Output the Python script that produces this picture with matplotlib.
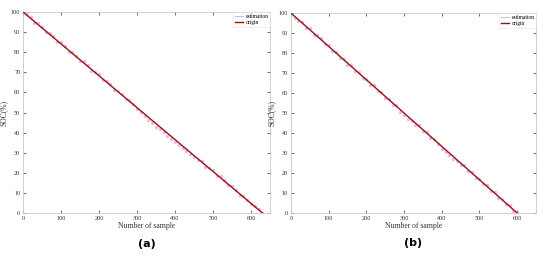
import matplotlib
matplotlib.use("Agg")
import matplotlib.pyplot as plt
from matplotlib.lines import Line2D

plt.rcParams['font.family'] = ['Liberation Serif', 'DejaVu Serif']

# ---------------- data ----------------
samples_a = list(range(0, 640, 10))
est_a = [100.0, 99.2, 97.3, 94.6, 94.6, 92.5, 90.0, 89.6, 87.9, 85.3,
         84.9, 83.0, 80.3, 80.0, 78.1, 75.7, 75.5, 73.4, 70.8, 70.3,
         69.0, 66.3, 65.7, 64.3, 61.4, 60.7, 59.4, 56.5, 56.1, 54.3,
         51.9, 50.1, 48.3, 46.4, 45.0, 43.0, 41.6, 40.2, 38.2, 36.9,
         35.5, 34.0, 32.1, 30.9, 29.6, 27.9, 26.6, 25.9, 23.1, 22.6,
         21.2, 18.5, 18.2, 16.2, 13.7, 13.2, 11.5, 9.1, 8.5, 6.6,
         4.5, 3.6, 1.8, 0.0]
origin_a_x = [0, 630]
origin_a_y = [100, 0]

samples_b = list(range(0, 610, 10))
est_b = [100.0, 97.5, 95.8, 95.6, 92.6, 92.3, 89.2, 88.9, 87.6, 84.3,
         83.9, 81.0, 80.7, 77.6, 77.2, 74.2, 73.9, 70.8, 70.6, 67.5,
         67.2, 64.2, 63.9, 61.0, 60.6, 57.5, 57.2, 54.1, 53.9, 50.6,
         49.1, 47.2, 45.8, 44.1, 43.8, 40.9, 40.5, 37.6, 37.2, 34.3,
         32.0, 30.4, 28.9, 27.2, 25.8, 24.1, 23.8, 20.9, 20.5, 17.6,
         17.2, 14.3, 13.9, 11.0, 10.6, 7.7, 7.2, 4.4, 3.8, 1.2,
         0.0]
origin_b_x = [0, 600]
origin_b_y = [100, 0]

xticks = [0, 100, 200, 300, 400, 500, 600]
yticks = [0, 10, 20, 30, 40, 50, 60, 70, 80, 90, 100]
panel_labels = ['(a)', '(b)']
legend_labels = ['estimation', 'origin']
xlabel = 'Number of sample'
ylabel = 'SOC(%)'

# ---------------- figure ----------------
fig = plt.figure(figsize=(5.5, 2.56), dpi=100)
positions = [[0.042, 0.168, 0.449, 0.785], [0.529, 0.168, 0.4455, 0.781]]
data = [(samples_a, est_a, origin_a_x, origin_a_y),
        (samples_b, est_b, origin_b_x, origin_b_y)]

est_color = '#f0a0f0'
org_color = '#8b1a0a'
frame_color = '#c8c8c8'

for pos, (sx, sy, ox, oy), plabel in zip(positions, data, panel_labels):
    ax = fig.add_axes(pos)
    ax.plot(sx, sy, linestyle='none', marker='.', markersize=3,
            color=est_color, alpha=0.7, zorder=2)
    ax.plot(ox, oy, color=org_color, linewidth=1.0, zorder=3)
    ax.set_xlim(0, 650)
    ax.set_ylim(0, 100)
    ax.set_xticks(xticks)
    ax.set_yticks(yticks)
    ax.tick_params(direction='in', length=2, width=0.5, labelsize=4.5,
                   colors='#333333', top=True, right=True, pad=2)
    for sp in ax.spines.values():
        sp.set_color(frame_color)
        sp.set_linewidth(0.6)
    ax.set_xlabel(xlabel, fontsize=5.5, labelpad=1, color='#333333')
    ax.set_ylabel(ylabel, fontsize=5.5, labelpad=2, color='#333333')
    handles = [Line2D([0], [0], color='#b8c8e8', linewidth=0.8),
               Line2D([0], [0], color=org_color, linewidth=1.0)]
    leg = ax.legend(handles, legend_labels, loc='upper right', fontsize=4,
                    frameon=True, fancybox=False, handlelength=1.5,
                    borderpad=0.3, labelspacing=0.3, handletextpad=0.4,
                    borderaxespad=0.0)
    leg.get_frame().set_edgecolor('#dddddd')
    leg.get_frame().set_linewidth(0.4)
    ax.text(0.5, -0.152, plabel, transform=ax.transAxes, ha='center', va='center',
            fontsize=8, fontweight='bold', family=['DejaVu Sans'])

fig.savefig('out.png', dpi=100)
